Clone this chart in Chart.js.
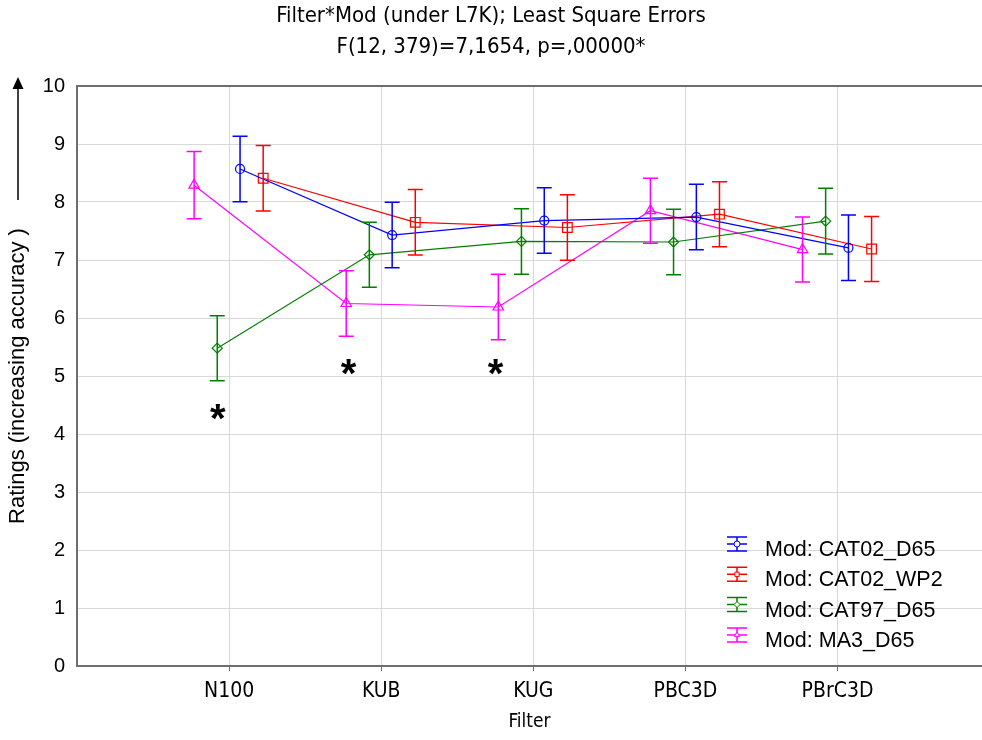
<!DOCTYPE html>
<html>
<head>
<meta charset="utf-8">
<script src="https://cdn.jsdelivr.net/npm/chart.js@4.4.1/dist/chart.umd.min.js"></script>
<style>
  html, body { margin: 0; padding: 0; background: #fff; }
  #wrap { width: 982px; height: 740px; }
</style>
</head>
<body>
<div id="wrap"><canvas id="filterModChart" width="982" height="740"></canvas></div>
<script>
// categories on the x axis
const filters = ["N100", "KUB", "KUG", "PBC3D", "PBrC3D"];
const yTicks = [0, 1, 2, 3, 4, 5, 6, 7, 8, 9, 10];

// means per filter
const cat02D65 = [8.57, 7.43, 7.68, 7.74, 7.21];
const cat02WP2 = [8.41, 7.65, 7.56, 7.79, 7.19];
const cat97D65 = [5.48, 7.09, 7.32, 7.31, 7.67];
const ma3D65 = [8.29, 6.25, 6.19, 7.85, 7.18];

// half length of the error bars
const cat02D65Err = [0.565, 0.565, 0.565, 0.565, 0.565];
const cat02WP2Err = [0.565, 0.565, 0.565, 0.56, 0.56];
const cat97D65Err = [0.56, 0.56, 0.565, 0.565, 0.565];
const ma3D65Err = [0.58, 0.565, 0.565, 0.56, 0.56];

// significance stars
const starFilters = ["N100", "KUB", "KUG"];
const starValues = [4.36, 5.13, 5.12];

const NARROW = "'Liberation Sans Narrow', 'Arial Narrow', 'DejaVu Sans Condensed', sans-serif";
const SANS = "'Liberation Sans', Arial, sans-serif";
Chart.defaults.font.family = SANS;
Chart.defaults.color = "#000";

const series = [
  { label: "Mod: CAT02_D65", values: cat02D65, errors: cat02D65Err, color: "#0000ff", shift: 0.072, style: "circle", radius: 4.5 },
  { label: "Mod: CAT02_WP2", values: cat02WP2, errors: cat02WP2Err, color: "#ff0000", shift: 0.224, style: "rect", radius: 6.8 },
  { label: "Mod: CAT97_D65", values: cat97D65, errors: cat97D65Err, color: "#008000", shift: -0.078, style: "rectRot", radius: 5 },
  { label: "Mod: MA3_D65", values: ma3D65, errors: ma3D65Err, color: "#ff00ff", shift: -0.23, style: "triangle", radius: 6 },
];
const starShift = [-0.074, -0.215, -0.248];

// vertical error bars with caps
const errorBars = {
  id: "errorBars",
  afterDatasetsDraw(chart) {
    const { ctx, scales: { x, y } } = chart;
    series.forEach((s) => {
      ctx.save();
      ctx.strokeStyle = s.color;
      ctx.lineWidth = 1.5;
      s.values.forEach((v, i) => {
        const px = x.getPixelForValue(i + s.shift);
        const top = y.getPixelForValue(v + s.errors[i]);
        const bot = y.getPixelForValue(v - s.errors[i]);
        ctx.beginPath();
        ctx.moveTo(px, top); ctx.lineTo(px, bot);
        ctx.moveTo(px - 7.5, top); ctx.lineTo(px + 7.5, top);
        ctx.moveTo(px - 7.5, bot); ctx.lineTo(px + 7.5, bot);
        ctx.stroke();
      });
      ctx.restore();
    });
  },
};

// stars, arrow next to the y title, and the legend box
const extras = {
  id: "extras",
  afterDraw(chart) {
    const { ctx, chartArea, scales: { x, y } } = chart;
    ctx.save();
    // stars
    ctx.fillStyle = "#000";
    ctx.font = "bold 40px " + SANS;
    ctx.textAlign = "center";
    ctx.textBaseline = "alphabetic";
    starFilters.forEach((f, i) => {
      const px = x.getPixelForValue(filters.indexOf(f) + starShift[i]);
      const py = y.getPixelForValue(starValues[i]);
      ctx.fillText("*", px, py + 40 * 0.46);
    });

    // arrow
    ctx.strokeStyle = "#000";
    ctx.lineWidth = 1.5;
    ctx.beginPath();
    ctx.moveTo(18, chartArea.top + 2);
    ctx.lineTo(18, 200);
    ctx.stroke();
    ctx.beginPath();
    ctx.moveTo(18, chartArea.top - 9);
    ctx.lineTo(12.5, chartArea.top + 3);
    ctx.lineTo(23.5, chartArea.top + 3);
    ctx.closePath();
    ctx.fill();

    // legend
    ctx.font = "21.5px " + SANS;
    ctx.textAlign = "left";
    ctx.textBaseline = "middle";
    series.forEach((s, i) => {
      const ty = chartArea.bottom - 116 + i * 30.3;
      const ix = chartArea.right - 245;
      const iy = ty - 6;
      ctx.strokeStyle = s.color;
      ctx.lineWidth = 1.5;
      ctx.beginPath();
      ctx.moveTo(ix - 10, iy - 7); ctx.lineTo(ix + 10, iy - 7);
      ctx.moveTo(ix - 10, iy); ctx.lineTo(ix + 10, iy);
      ctx.moveTo(ix - 10, iy + 7); ctx.lineTo(ix + 10, iy + 7);
      ctx.moveTo(ix, iy - 7); ctx.lineTo(ix, iy + 7);
      ctx.stroke();
      ctx.lineWidth = 1;
      ctx.fillStyle = "#fff";
      Chart.helpers.drawPoint(ctx, { pointStyle: s.style, radius: 3, borderWidth: 1 }, ix, iy);
      ctx.fillStyle = "#000";
      ctx.fillText(s.label, chartArea.right - 217, ty);
    });
    ctx.restore();
  },
};

const datasets = series.map((s) => ({
  label: s.label,
  data: s.values.map((v, i) => ({ x: i + s.shift, y: v })),
  borderColor: s.color,
  backgroundColor: "rgba(0,0,0,0)",
  borderWidth: 1.2,
  pointStyle: s.style,
  pointRadius: s.radius,
  pointBorderWidth: 1.2,
  pointBorderColor: s.color,
  pointBackgroundColor: "rgba(0,0,0,0)",
  tension: 0,
}));

const chart = new Chart(document.getElementById("filterModChart").getContext("2d"), {
  type: "line",
  data: { datasets },
  plugins: [errorBars, extras],
  options: {
    responsive: false,
    animation: false,
    devicePixelRatio: 1,
    layout: { padding: 0, autoPadding: false },
    plugins: {
      legend: { display: false },
      tooltip: { enabled: false },
      title: {
        display: true,
        text: ["Filter*Mod (under L7K); Least Square Errors", "F(12, 379)=7,1654, p=,00000*"],
        color: "#000",
        font: { family: NARROW, size: 22, weight: "normal", lineHeight: 1.4 },
        padding: { top: 0.6, bottom: 23.8 },
      },
    },
    scales: {
      x: {
        type: "linear",
        min: -1,
        max: 4.95,
        afterBuildTicks: (scale) => {
          scale.ticks = filters.map((f, i) => ({ value: i }));
        },
        afterFit: (scale) => { scale.height = 74; },
        ticks: {
          callback: (value) => filters[Math.round(value)],
          font: { family: NARROW, size: 21 },
          color: "#000",
          padding: 8,
          maxRotation: 0,
        },
        grid: { color: "#d9d9d9", tickColor: "#6e6e6e", tickLength: 5, drawTicks: true },
        border: { display: true, color: "#6e6e6e", width: 2 },
        title: {
          display: true,
          text: "Filter",
          color: "#000",
          font: { family: NARROW, size: 19, lineHeight: 1.2 },
          padding: { top: 0, bottom: 6.5 },
        },
      },
      y: {
        min: 0,
        max: 10,
        afterBuildTicks: (scale) => {
          scale.ticks = yTicks.map((v) => ({ value: v }));
        },
        afterFit: (scale) => { scale.width = 77; },
        ticks: { font: { size: 20 }, color: "#000", padding: 12 },
        grid: {
          drawTicks: false,
          color: (c) => (c.tick && c.tick.value === 10 ? "#6e6e6e" : "#d9d9d9"),
          lineWidth: (c) => (c.tick && c.tick.value === 10 ? 2 : 1),
        },
        border: { display: true, color: "#6e6e6e", width: 2 },
        title: {
          display: true,
          text: "Ratings (increasing accuracy )",
          color: "#000",
          font: { size: 22, lineHeight: 1.2 },
          padding: { top: 5, bottom: 0 },
        },
      },
    },
  },
});
</script>
</body>
</html>
